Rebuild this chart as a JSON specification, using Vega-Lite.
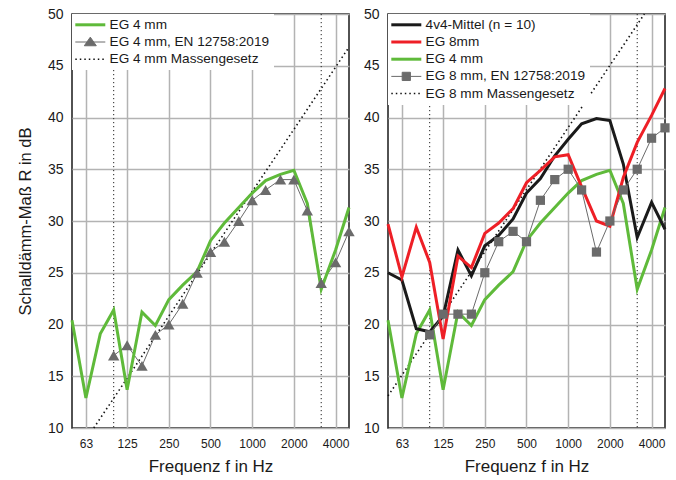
{
  "$schema": "https://vega.github.io/schema/vega-lite/v6.json",
  "padding": {"left": 16, "top": 6, "right": 5, "bottom": 2},
  "spacing": 6,
  "datasets": {
    "r": [
      {"series": "EG 4 mm", "f": 50, "R": 20.4},
      {"series": "EG 4 mm", "f": 63, "R": 12.9},
      {"series": "EG 4 mm", "f": 80, "R": 19.1},
      {"series": "EG 4 mm", "f": 100, "R": 21.4},
      {"series": "EG 4 mm", "f": 125, "R": 13.7},
      {"series": "EG 4 mm", "f": 160, "R": 21.2},
      {"series": "EG 4 mm", "f": 200, "R": 19.9},
      {"series": "EG 4 mm", "f": 250, "R": 22.4},
      {"series": "EG 4 mm", "f": 315, "R": 23.8},
      {"series": "EG 4 mm", "f": 400, "R": 25.1},
      {"series": "EG 4 mm", "f": 500, "R": 28.1},
      {"series": "EG 4 mm", "f": 630, "R": 29.8},
      {"series": "EG 4 mm", "f": 800, "R": 31.3},
      {"series": "EG 4 mm", "f": 1000, "R": 32.7},
      {"series": "EG 4 mm", "f": 1250, "R": 33.9},
      {"series": "EG 4 mm", "f": 1600, "R": 34.5},
      {"series": "EG 4 mm", "f": 2000, "R": 34.9},
      {"series": "EG 4 mm", "f": 2500, "R": 31.7},
      {"series": "EG 4 mm", "f": 3150, "R": 23.4},
      {"series": "EG 4 mm", "f": 4000, "R": 27.2},
      {"series": "EG 4 mm", "f": 5000, "R": 31.3},
      {"series": "EG 4 mm, EN 12758:2019", "f": 100, "R": 17},
      {"series": "EG 4 mm, EN 12758:2019", "f": 125, "R": 18},
      {"series": "EG 4 mm, EN 12758:2019", "f": 160, "R": 16},
      {"series": "EG 4 mm, EN 12758:2019", "f": 200, "R": 19},
      {"series": "EG 4 mm, EN 12758:2019", "f": 250, "R": 20},
      {"series": "EG 4 mm, EN 12758:2019", "f": 315, "R": 22},
      {"series": "EG 4 mm, EN 12758:2019", "f": 400, "R": 25},
      {"series": "EG 4 mm, EN 12758:2019", "f": 500, "R": 27},
      {"series": "EG 4 mm, EN 12758:2019", "f": 630, "R": 28},
      {"series": "EG 4 mm, EN 12758:2019", "f": 800, "R": 30},
      {"series": "EG 4 mm, EN 12758:2019", "f": 1000, "R": 32},
      {"series": "EG 4 mm, EN 12758:2019", "f": 1250, "R": 33},
      {"series": "EG 4 mm, EN 12758:2019", "f": 1600, "R": 34},
      {"series": "EG 4 mm, EN 12758:2019", "f": 2000, "R": 34},
      {"series": "EG 4 mm, EN 12758:2019", "f": 2500, "R": 31},
      {"series": "EG 4 mm, EN 12758:2019", "f": 3150, "R": 24},
      {"series": "EG 4 mm, EN 12758:2019", "f": 4000, "R": 26},
      {"series": "EG 4 mm, EN 12758:2019", "f": 5000, "R": 29},
      {"series": "EG 4 mm Massengesetz", "f": 71.8, "R": 10},
      {"series": "EG 4 mm Massengesetz", "f": 5000, "R": 46.8},
      {"series": "4v4-Mittel (n = 10)", "f": 50, "R": 25.0},
      {"series": "4v4-Mittel (n = 10)", "f": 63, "R": 24.3},
      {"series": "4v4-Mittel (n = 10)", "f": 80, "R": 19.6},
      {"series": "4v4-Mittel (n = 10)", "f": 100, "R": 19.3},
      {"series": "4v4-Mittel (n = 10)", "f": 125, "R": 20.8},
      {"series": "4v4-Mittel (n = 10)", "f": 160, "R": 27.2},
      {"series": "4v4-Mittel (n = 10)", "f": 200, "R": 24.7},
      {"series": "4v4-Mittel (n = 10)", "f": 250, "R": 27.6},
      {"series": "4v4-Mittel (n = 10)", "f": 315, "R": 28.6},
      {"series": "4v4-Mittel (n = 10)", "f": 400, "R": 30.2},
      {"series": "4v4-Mittel (n = 10)", "f": 500, "R": 32.7},
      {"series": "4v4-Mittel (n = 10)", "f": 630, "R": 34.1},
      {"series": "4v4-Mittel (n = 10)", "f": 800, "R": 36.3},
      {"series": "4v4-Mittel (n = 10)", "f": 1000, "R": 37.9},
      {"series": "4v4-Mittel (n = 10)", "f": 1250, "R": 39.4},
      {"series": "4v4-Mittel (n = 10)", "f": 1600, "R": 39.9},
      {"series": "4v4-Mittel (n = 10)", "f": 2000, "R": 39.7},
      {"series": "4v4-Mittel (n = 10)", "f": 2500, "R": 35.5},
      {"series": "4v4-Mittel (n = 10)", "f": 3150, "R": 28.4},
      {"series": "4v4-Mittel (n = 10)", "f": 4000, "R": 31.8},
      {"series": "4v4-Mittel (n = 10)", "f": 5000, "R": 29.2},
      {"series": "EG 8mm", "f": 50, "R": 29.7},
      {"series": "EG 8mm", "f": 63, "R": 24.6},
      {"series": "EG 8mm", "f": 80, "R": 29.4},
      {"series": "EG 8mm", "f": 100, "R": 26.0},
      {"series": "EG 8mm", "f": 125, "R": 18.6},
      {"series": "EG 8mm", "f": 160, "R": 26.6},
      {"series": "EG 8mm", "f": 200, "R": 25.5},
      {"series": "EG 8mm", "f": 250, "R": 28.8},
      {"series": "EG 8mm", "f": 315, "R": 29.8},
      {"series": "EG 8mm", "f": 400, "R": 31.2},
      {"series": "EG 8mm", "f": 500, "R": 33.7},
      {"series": "EG 8mm", "f": 630, "R": 34.9},
      {"series": "EG 8mm", "f": 800, "R": 36.2},
      {"series": "EG 8mm", "f": 1000, "R": 36.4},
      {"series": "EG 8mm", "f": 1250, "R": 33.3},
      {"series": "EG 8mm", "f": 1600, "R": 30.0},
      {"series": "EG 8mm", "f": 2000, "R": 29.5},
      {"series": "EG 8mm", "f": 2500, "R": 34.2},
      {"series": "EG 8mm", "f": 3150, "R": 37.6},
      {"series": "EG 8mm", "f": 4000, "R": 40.2},
      {"series": "EG 8mm", "f": 5000, "R": 42.8},
      {"series": "EG 8 mm, EN 12758:2019", "f": 100, "R": 19},
      {"series": "EG 8 mm, EN 12758:2019", "f": 125, "R": 21},
      {"series": "EG 8 mm, EN 12758:2019", "f": 160, "R": 21},
      {"series": "EG 8 mm, EN 12758:2019", "f": 200, "R": 21},
      {"series": "EG 8 mm, EN 12758:2019", "f": 250, "R": 25},
      {"series": "EG 8 mm, EN 12758:2019", "f": 315, "R": 28},
      {"series": "EG 8 mm, EN 12758:2019", "f": 400, "R": 29},
      {"series": "EG 8 mm, EN 12758:2019", "f": 500, "R": 28},
      {"series": "EG 8 mm, EN 12758:2019", "f": 630, "R": 32},
      {"series": "EG 8 mm, EN 12758:2019", "f": 800, "R": 34},
      {"series": "EG 8 mm, EN 12758:2019", "f": 1000, "R": 35},
      {"series": "EG 8 mm, EN 12758:2019", "f": 1250, "R": 33},
      {"series": "EG 8 mm, EN 12758:2019", "f": 1600, "R": 27},
      {"series": "EG 8 mm, EN 12758:2019", "f": 2000, "R": 30},
      {"series": "EG 8 mm, EN 12758:2019", "f": 2500, "R": 33},
      {"series": "EG 8 mm, EN 12758:2019", "f": 3150, "R": 35},
      {"series": "EG 8 mm, EN 12758:2019", "f": 4000, "R": 38},
      {"series": "EG 8 mm, EN 12758:2019", "f": 5000, "R": 39},
      {"series": "EG 8 mm Massengesetz", "f": 50, "R": 13.1},
      {"series": "EG 8 mm Massengesetz", "f": 3550, "R": 50}
    ],
    "v": [{"f": 100}, {"f": 3150}]
  },
  "hconcat": [
    {
      "width": 277,
      "height": 414,
      "encoding": {
        "x": {"field": "f", "type": "quantitative",
          "scale": {"type": "log", "domain": [50, 5000], "nice": false},
          "axis": {"values": [63, 125, 250, 500, 1000, 2000, 4000], "format": "d", "title": "Frequenz f in Hz"}}
      },
      "layer": [
        {"data": {"name": "v"}, "mark": {"type": "rule", "strokeDash": [1.2, 2.8], "strokeWidth": 1, "color": "#222222"}},
        {
          "encoding": {
            "y": {"field": "R", "type": "quantitative",
              "scale": {"domain": [10, 50], "nice": false, "zero": false},
              "axis": {"values": [10, 15, 20, 25, 30, 35, 40, 45, 50], "title": "Schalldämm-Maß R in dB", "titleFontSize": 16.5, "titlePadding": 14}},
            "color": {"field": "series", "type": "nominal",
              "scale": {"domain": ["EG 4 mm", "EG 4 mm, EN 12758:2019", "EG 4 mm Massengesetz"], "range": ["#5fba3a", "#6b6b6b", "#111111"]},
              "legend": {"orient": "top-left", "offset": 0, "padding": 4, "fillColor": "white", "title": null,
                "symbolSize": 225, "labelFontSize": 13.6, "labelLimit": 300, "labelOffset": 20, "rowPadding": 2.2,
                "encode": {"symbols": {"update": {
                  "shape": {"signal": "datum.value === 'EG 4 mm, EN 12758:2019' ? 'M-1,0H3M0.2,0.5L1,-0.65L1.8,0.5Z' : (datum.value === 'EG 4 mm Massengesetz' ? 'M-1,0H-0.8M-0.4,0H-0.2M0.2,0H0.4M0.8,0H1M1.4,0H1.6M2,0H2.2M2.6,0H2.8' : 'M-1,0H3')"},
                  "fill": {"signal": "datum.value === 'EG 4 mm, EN 12758:2019' ? '#6b6b6b' : 'transparent'"},
                  "stroke": {"signal": "datum.value === 'EG 4 mm' ? '#5fba3a' : (datum.value === 'EG 4 mm, EN 12758:2019' ? '#6b6b6b' : '#111111')"},
                  "strokeWidth": {"signal": "datum.value === 'EG 4 mm' ? 3 : (datum.value === 'EG 4 mm, EN 12758:2019' ? 1 : 1.5)"}
                }}}}}
          },
          "layer": [
            {"data": {"name": "r"}, "transform": [{"filter": {"field": "series", "equal": "EG 4 mm Massengesetz"}}],
              "mark": {"type": "line", "strokeDash": [1.5, 3], "strokeWidth": 1.6}},
            {"data": {"name": "r"}, "transform": [{"filter": {"field": "series", "equal": "EG 4 mm, EN 12758:2019"}}],
              "mark": {"type": "line", "strokeWidth": 1}},
            {"data": {"name": "r"}, "transform": [{"filter": {"field": "series", "equal": "EG 4 mm"}}],
              "mark": {"type": "line", "strokeWidth": 3}},
            {"data": {"name": "r"}, "transform": [{"filter": {"field": "series", "equal": "EG 4 mm, EN 12758:2019"}}],
              "mark": {"type": "point", "shape": "triangle-up", "filled": true, "size": 130, "opacity": 1}}
          ]
        }
      ]
    },
    {
      "width": 277,
      "height": 414,
      "encoding": {
        "x": {"field": "f", "type": "quantitative",
          "scale": {"type": "log", "domain": [50, 5000], "nice": false},
          "axis": {"values": [63, 125, 250, 500, 1000, 2000, 4000], "format": "d", "title": "Frequenz f in Hz"}}
      },
      "layer": [
        {"data": {"name": "v"}, "mark": {"type": "rule", "strokeDash": [1.2, 2.8], "strokeWidth": 1, "color": "#222222"}},
        {
          "encoding": {
            "y": {"field": "R", "type": "quantitative",
              "scale": {"domain": [10, 50], "nice": false, "zero": false},
              "axis": {"values": [10, 15, 20, 25, 30, 35, 40, 45, 50], "title": null}},
            "color": {"field": "series", "type": "nominal",
              "scale": {"domain": ["4v4-Mittel (n = 10)", "EG 8mm", "EG 4 mm", "EG 8 mm, EN 12758:2019", "EG 8 mm Massengesetz"], "range": ["#1a1a1a", "#ee1f26", "#5fba3a", "#6b6b6b", "#111111"]},
              "legend": {"orient": "top-left", "offset": 0, "padding": 4, "fillColor": "white", "title": null,
                "symbolSize": 225, "labelFontSize": 13.6, "labelLimit": 300, "labelOffset": 20, "rowPadding": 2.2,
                "encode": {"symbols": {"update": {
                  "shape": {"signal": "datum.value === 'EG 8 mm, EN 12758:2019' ? 'M-1,0H3M0.45,-0.55H1.55V0.55H0.45Z' : (datum.value === 'EG 8 mm Massengesetz' ? 'M-1,0H-0.8M-0.4,0H-0.2M0.2,0H0.4M0.8,0H1M1.4,0H1.6M2,0H2.2M2.6,0H2.8' : 'M-1,0H3')"},
                  "fill": {"signal": "datum.value === 'EG 8 mm, EN 12758:2019' ? '#6b6b6b' : 'transparent'"},
                  "stroke": {"signal": "datum.value === 'EG 8mm' ? '#ee1f26' : (datum.value === 'EG 4 mm' ? '#5fba3a' : (datum.value === 'EG 8 mm, EN 12758:2019' ? '#6b6b6b' : '#111111'))"},
                  "strokeWidth": {"signal": "datum.value === 'EG 8 mm, EN 12758:2019' ? 1 : (datum.value === 'EG 8 mm Massengesetz' ? 1.5 : 3)"}
                }}}}}
          },
          "layer": [
            {"data": {"name": "r"}, "transform": [{"filter": {"field": "series", "equal": "EG 8 mm Massengesetz"}}],
              "mark": {"type": "line", "strokeDash": [1.5, 3], "strokeWidth": 1.6}},
            {"data": {"name": "r"}, "transform": [{"filter": {"field": "series", "equal": "EG 4 mm"}}],
              "mark": {"type": "line", "strokeWidth": 3}},
            {"data": {"name": "r"}, "transform": [{"filter": {"field": "series", "equal": "4v4-Mittel (n = 10)"}}],
              "mark": {"type": "line", "strokeWidth": 3}},
            {"data": {"name": "r"}, "transform": [{"filter": {"field": "series", "equal": "EG 8mm"}}],
              "mark": {"type": "line", "strokeWidth": 3}},
            {"data": {"name": "r"}, "transform": [{"filter": {"field": "series", "equal": "EG 8 mm, EN 12758:2019"}}],
              "mark": {"type": "line", "strokeWidth": 1}},
            {"data": {"name": "r"}, "transform": [{"filter": {"field": "series", "equal": "EG 8 mm, EN 12758:2019"}}],
              "mark": {"type": "point", "shape": "square", "filled": true, "size": 85, "opacity": 1}}
          ]
        }
      ]
    }
  ],
  "resolve": {"scale": {"color": "independent", "x": "independent", "y": "independent"}, "legend": {"color": "independent"}},
  "config": {
    "font": "Liberation Sans",
    "view": {"stroke": "#1a1a1a", "strokeWidth": 1.5},
    "axis": {"domain": false, "ticks": false, "grid": true, "gridColor": "#b3b3b3", "gridWidth": 1.5,
      "labelColor": "#1a1a1a", "titleColor": "#1a1a1a", "titleFontWeight": "normal",
      "labelFlush": false, "labelOverlap": false},
    "axisX": {"labelFontSize": 12, "labelPadding": 10, "titleFontSize": 17, "titlePadding": 9},
    "axisY": {"labelFontSize": 14, "labelPadding": 9},
    "legend": {"labelColor": "#1a1a1a", "labelFont": "Liberation Sans"}
  }
}
